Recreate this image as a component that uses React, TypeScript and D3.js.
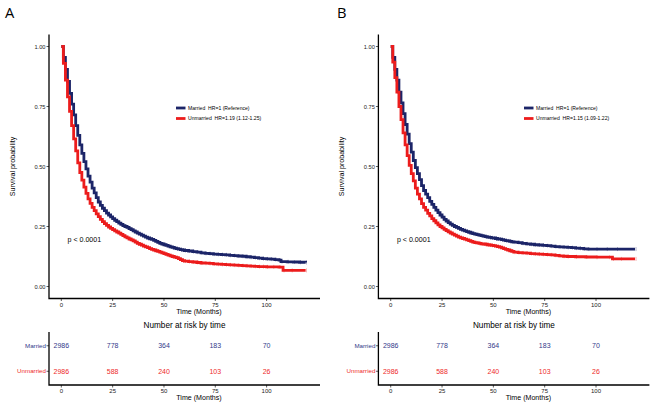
import * as d3 from "d3";

const timeTicks = [0, 25, 50, 75, 100];
const probTicks = [0, 0.25, 0.5, 0.75, 1];
const groups = ["Married", "Unmarried"];

// Panel A – Kaplan-Meier steps
const aMarriedTime = [0, 1, 2, 3, 4, 5, 6, 7, 8, 9, 10, 11, 12, 13, 14, 15, 16, 17, 18, 19, 20, 21, 22, 23, 24, 25, 26, 27, 28, 29, 30, 31, 32, 33, 34, 35, 36, 37, 38, 39, 40, 41, 42, 43, 44, 45, 46, 47, 48, 49, 50, 51, 52, 53, 54, 55, 56, 57, 58, 59, 60, 62, 64, 66, 68, 70, 72, 74, 76, 78, 80, 82, 84, 86, 88, 90, 92, 94, 96, 98, 100, 102, 104, 106, 107, 110, 113, 116, 119];
const aMarriedSurv = [1, 0.955, 0.905, 0.855, 0.805, 0.76, 0.715, 0.67, 0.63, 0.59, 0.555, 0.52, 0.49, 0.46, 0.435, 0.41, 0.39, 0.37, 0.352, 0.338, 0.326, 0.316, 0.306, 0.298, 0.29, 0.283, 0.276, 0.27, 0.264, 0.259, 0.254, 0.25, 0.246, 0.241, 0.237, 0.232, 0.227, 0.222, 0.218, 0.214, 0.21, 0.206, 0.202, 0.199, 0.196, 0.192, 0.188, 0.184, 0.18, 0.177, 0.174, 0.171, 0.168, 0.165, 0.163, 0.16, 0.158, 0.156, 0.154, 0.152, 0.15, 0.148, 0.145, 0.143, 0.14, 0.138, 0.137, 0.135, 0.134, 0.133, 0.132, 0.13, 0.129, 0.127, 0.126, 0.124, 0.122, 0.12, 0.118, 0.116, 0.115, 0.114, 0.112, 0.11, 0.104, 0.103, 0.102, 0.101, 0.1];
const aUnmarriedTime = [0, 1, 2, 3, 4, 5, 6, 7, 8, 9, 10, 11, 12, 13, 14, 15, 16, 17, 18, 19, 20, 21, 22, 23, 24, 25, 26, 27, 28, 29, 30, 31, 32, 33, 34, 35, 36, 37, 38, 39, 40, 41, 42, 43, 44, 45, 46, 47, 48, 49, 50, 51, 52, 53, 54, 55, 56, 57, 58, 59, 60, 62, 64, 66, 68, 70, 72, 74, 76, 78, 80, 82, 84, 86, 88, 90, 92, 94, 96, 98, 100, 103, 106, 108, 112, 119];
const aUnmarriedSurv = [1, 0.93, 0.86, 0.79, 0.73, 0.67, 0.615, 0.565, 0.515, 0.475, 0.443, 0.414, 0.388, 0.365, 0.346, 0.33, 0.316, 0.303, 0.291, 0.28, 0.27, 0.262, 0.255, 0.248, 0.242, 0.237, 0.232, 0.227, 0.222, 0.217, 0.212, 0.207, 0.203, 0.198, 0.194, 0.19, 0.185, 0.18, 0.176, 0.172, 0.168, 0.165, 0.162, 0.158, 0.155, 0.152, 0.149, 0.146, 0.143, 0.14, 0.137, 0.134, 0.131, 0.128, 0.125, 0.122, 0.12, 0.116, 0.112, 0.108, 0.106, 0.104, 0.102, 0.1, 0.098, 0.097, 0.096, 0.094, 0.093, 0.092, 0.091, 0.09, 0.089, 0.088, 0.087, 0.086, 0.085, 0.084, 0.083, 0.083, 0.082, 0.082, 0.081, 0.067, 0.067, 0.067];

// Panel B
const bMarriedTime = [0, 1, 2, 3, 4, 5, 6, 7, 8, 9, 10, 11, 12, 13, 14, 15, 16, 17, 18, 19, 20, 21, 22, 23, 24, 25, 26, 27, 28, 29, 30, 31, 32, 33, 34, 35, 36, 37, 38, 39, 40, 41, 42, 43, 44, 45, 46, 47, 48, 49, 50, 51, 52, 53, 54, 55, 56, 57, 58, 59, 60, 62, 64, 66, 68, 70, 72, 74, 76, 78, 80, 82, 84, 86, 88, 90, 92, 94, 96, 100, 105, 110, 119];
const bMarriedSurv = [1, 0.955, 0.905, 0.86, 0.81, 0.765, 0.72, 0.675, 0.635, 0.595, 0.56, 0.525, 0.495, 0.47, 0.445, 0.42, 0.4, 0.385, 0.37, 0.355, 0.342, 0.33, 0.318, 0.308, 0.298, 0.289, 0.28, 0.273, 0.266, 0.26, 0.255, 0.25, 0.246, 0.242, 0.238, 0.235, 0.232, 0.229, 0.226, 0.223, 0.22, 0.218, 0.216, 0.214, 0.212, 0.21, 0.208, 0.206, 0.205, 0.203, 0.202, 0.2, 0.198, 0.197, 0.195, 0.193, 0.191, 0.19, 0.188, 0.186, 0.185, 0.183, 0.18, 0.178, 0.176, 0.174, 0.173, 0.171, 0.17, 0.168, 0.166, 0.165, 0.164, 0.163, 0.162, 0.16, 0.159, 0.157, 0.156, 0.156, 0.156, 0.156, 0.156];
const bUnmarriedTime = [0, 1, 2, 3, 4, 5, 6, 7, 8, 9, 10, 11, 12, 13, 14, 15, 16, 17, 18, 19, 20, 21, 22, 23, 24, 25, 26, 27, 28, 29, 30, 31, 32, 33, 34, 35, 36, 37, 38, 39, 40, 41, 42, 43, 44, 45, 46, 47, 48, 49, 50, 51, 52, 53, 54, 55, 56, 57, 58, 59, 60, 62, 64, 66, 68, 70, 72, 74, 76, 78, 80, 82, 84, 86, 90, 95, 100, 106, 108, 112, 119];
const bUnmarriedSurv = [1, 0.935, 0.87, 0.81, 0.75, 0.695, 0.64, 0.59, 0.545, 0.505, 0.47, 0.44, 0.41, 0.385, 0.365, 0.345, 0.33, 0.318, 0.305, 0.294, 0.283, 0.274, 0.265, 0.257, 0.25, 0.244, 0.238, 0.233, 0.228, 0.223, 0.218, 0.214, 0.21, 0.206, 0.203, 0.2, 0.197, 0.194, 0.191, 0.188, 0.185, 0.183, 0.182, 0.18, 0.178, 0.177, 0.176, 0.174, 0.173, 0.171, 0.17, 0.168, 0.166, 0.164, 0.161, 0.158, 0.155, 0.152, 0.149, 0.146, 0.143, 0.141, 0.14, 0.139, 0.137, 0.136, 0.135, 0.134, 0.133, 0.132, 0.13, 0.128, 0.126, 0.125, 0.124, 0.123, 0.122, 0.122, 0.115, 0.115, 0.115];

const aLegend = ["Married  HR=1 (Reference)", "Unmarried  HR=1.19 (1.12-1.25)"];
const bLegend = ["Married  HR=1 (Reference)", "Unmarried  HR=1.15 (1.09-1.22)"];

const aRiskMarried = [2986, 778, 364, 183, 70];
const aRiskUnmarried = [2986, 588, 240, 103, 26];
const bRiskMarried = [2986, 778, 364, 183, 70];
const bRiskUnmarried = [2986, 588, 240, 103, 26];

const lineColors = ["#1c2568", "#ec1c1c"];
const riskColors = ["#333a8a", "#ee2a2a"];
const FONT = "'Liberation Sans', Arial, sans-serif";

type Series = { time: number[]; surv: number[] };

function Panel({
  letter,
  ox,
  left,
  right,
  series,
  legend,
  legendX,
  risk,
}: {
  letter: string;
  ox: number;
  left: number;
  right: number;
  series: Series[];
  legend: string[];
  legendX: number;
  risk: number[][];
}) {
  const x = d3.scaleLinear().domain([-6, 126]).range([left, right]);
  const y = d3.scaleLinear().domain([-0.05, 1.05]).range([298.5, 34.5]);
  const yRisk = d3.scaleBand().domain(groups).range([333, 384]).padding(0);
  const rowY = (g: string) => (yRisk(g) ?? 0) + yRisk.bandwidth() / 2;

  const line = d3
    .line<[number, number]>()
    .curve(d3.curveStepAfter)
    .x((d) => x(d[0]))
    .y((d) => y(d[1]));

  const xMid = (left + right) / 2;
  const titleX = xMid + 14.5;

  return (
    <g fontFamily={FONT}>
      <text x={ox + 5} y={17.5} fontSize={14.7} fill="#000" fontFamily="'Open Sans', 'DejaVu Sans', sans-serif">
        {letter}
      </text>

      {/* main survival plot */}
      <text
        transform={`translate(${left - 34},${y(0.5)}) rotate(-90)`}
        textAnchor="middle"
        fontSize={7.1}
        fill="#000"
      >
        Survival probability
      </text>
      {probTicks.map((t) => (
        <g key={t}>
          <line x1={left - 2.5} x2={left} y1={y(t)} y2={y(t)} stroke="#333" strokeWidth={0.8} />
          <text x={left - 3.5} y={y(t) + 2} textAnchor="end" fontSize={5.7} fill="#222">
            {t.toFixed(2)}
          </text>
        </g>
      ))}
      {timeTicks.map((t) => (
        <g key={t}>
          <line x1={x(t)} x2={x(t)} y1={y(-0.05)} y2={y(-0.05) + 2.5} stroke="#333" strokeWidth={0.8} />
          <text x={x(t)} y={306.6} textAnchor="middle" fontSize={6} fill="#222">
            {t}
          </text>
        </g>
      ))}
      <text x={titleX} y={314.3} textAnchor="middle" fontSize={7.1} fill="#000">
        Time (Months)
      </text>

      {series.map((s, i) => (
        <g key={i}>
          <path
            d={line(s.time.map((t, k) => [t, s.surv[k]] as [number, number])) ?? ""}
            fill="none"
            stroke={lineColors[i]}
            strokeWidth={2.8}
          />
          {s.time.map((t, k) =>
            t >= 18 ? (
              <line
                key={k}
                x1={x(t) + 1}
                x2={x(t) + 1}
                y1={y(s.surv[k]) - 2}
                y2={y(s.surv[k]) + 2}
                stroke={lineColors[i]}
                strokeWidth={0.6}
                opacity={0.6}
              />
            ) : null
          )}
        </g>
      ))}
      <path
        d={`M${left},${y(1.05)}V${y(-0.05)}H${right}`}
        fill="none"
        stroke="#000"
        strokeWidth={1.3}
      />

      <text x={x(3)} y={241.7} fontSize={7.1} fill="#000">
        p &lt; 0.0001
      </text>

      {legend.map((l, i) => {
        const ly = 108 + i * 10.5;
        return (
          <g key={l}>
            <line x1={legendX} x2={legendX + 9.5} y1={ly} y2={ly} stroke={lineColors[i]} strokeWidth={2.8} />
            <text x={legendX + 12} y={ly + 1.8} fontSize={5.1} fill="#000" style={{ whiteSpace: "pre" }}>
              {l}
            </text>
          </g>
        );
      })}

      {/* number at risk table */}
      <text x={xMid} y={327.6} textAnchor="middle" fontSize={8.2} fill="#000">
        Number at risk by time
      </text>
      {groups.map((g, i) => (
        <g key={g}>
          <line x1={left - 2.5} x2={left} y1={rowY(g)} y2={rowY(g)} stroke="#333" strokeWidth={0.8} />
          <text x={left - 3} y={rowY(g) + 2.1} textAnchor="end" fontSize={6.2} fill={riskColors[i]}>
            {g}
          </text>
          {risk[i].map((n, k) => (
            <text key={k} x={x(timeTicks[k])} y={rowY(g) + 2.5} textAnchor="middle" fontSize={7} fill={riskColors[i]}>
              {n}
            </text>
          ))}
        </g>
      ))}
      {timeTicks.map((t) => (
        <g key={t}>
          <line x1={x(t)} x2={x(t)} y1={385} y2={387.5} stroke="#333" strokeWidth={0.8} />
          <text x={x(t)} y={392.6} textAnchor="middle" fontSize={6} fill="#222">
            {t}
          </text>
        </g>
      ))}
      <text x={titleX} y={400} textAnchor="middle" fontSize={7.1} fill="#000">
        Time (Months)
      </text>
      <path d={`M${left},332V385H${right}`} fill="none" stroke="#000" strokeWidth={1.3} />
    </g>
  );
}

export default function App() {
  return (
    <svg
      width={650}
      height={406}
      style={{ position: "absolute", left: 0, top: 0, background: "#fff" }}
    >
      <rect width={650} height={406} fill="#fff" />
      <Panel
        letter="A"
        ox={0}
        left={49}
        right={320}
        series={[
          { time: aMarriedTime, surv: aMarriedSurv },
          { time: aUnmarriedTime, surv: aUnmarriedSurv },
        ]}
        legend={aLegend}
        legendX={176}
        risk={[aRiskMarried, aRiskUnmarried]}
      />
      <Panel
        letter="B"
        ox={332}
        left={378.4}
        right={649.4}
        series={[
          { time: bMarriedTime, surv: bMarriedSurv },
          { time: bUnmarriedTime, surv: bUnmarriedSurv },
        ]}
        legend={bLegend}
        legendX={524}
        risk={[bRiskMarried, bRiskUnmarried]}
      />
    </svg>
  );
}
